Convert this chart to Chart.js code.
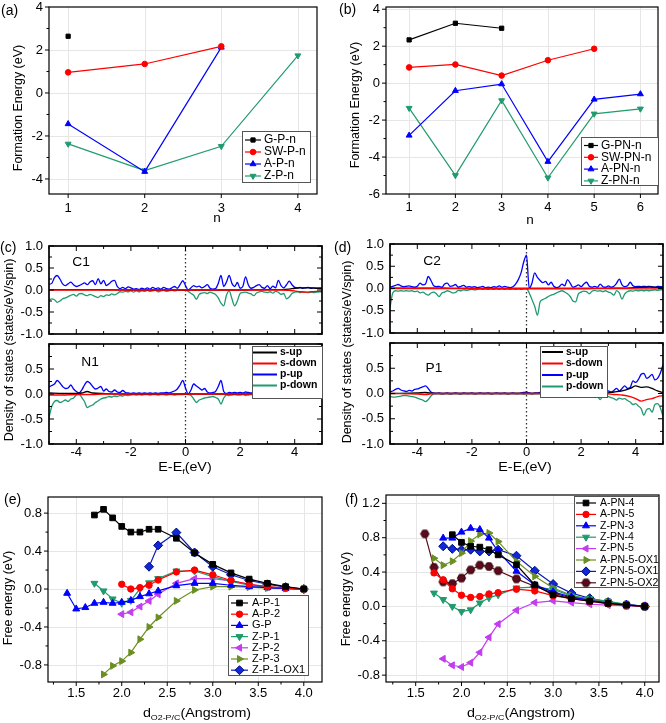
<!DOCTYPE html>
<html><head><meta charset="utf-8">
<script src="https://cdn.jsdelivr.net/npm/chart.js@4.4.1/dist/chart.umd.min.js"></script>
<style>
html,body{margin:0;padding:0;background:#fff}
body{position:relative;width:666px;height:723px;overflow:hidden;font-family:'Liberation Sans',Arial,Helvetica,sans-serif;color:#000}
canvas{position:absolute}
.t{position:absolute;white-space:nowrap;line-height:1}
.t sub{font-size:0.62em;vertical-align:baseline;position:relative;top:0.35em}
</style></head><body>
<script>
const FONT="'Liberation Sans', Arial, sans-serif";
const GREEN='#1f9b6d', MAG='#c23cf0', OLIVE='#6b8e23', NAVY='#0a1ab4', WINE='#5a0c1c';

// ===== (a) Formation energy, P-n =====
const aN=[1,2,3,4];
const aGPn=[2.64];
const aSWPn=[0.96,1.35,2.17];
const aAPn=[-1.44,-3.66,2.12];
const aZPn=[-2.37,-3.61,-2.48,1.74];
const aXTicks=[1,2,3,4], aYTicks=[-4,-2,0,2,4], aYMinor=[-3,-1,1,3];

// ===== (b) Formation energy, PN-n =====
const bN=[1,2,3,4,5,6];
const bGPNn=[2.34,3.24,2.97];
const bSWPNn=[0.85,1.01,0.41,1.24,1.86];
const bAPNn=[-2.83,-0.41,-0.05,-4.25,-0.88,-0.59];
const bZPNn=[-1.35,-4.99,-0.94,-5.12,-1.66,-1.39];
const bXTicks=[1,2,3,4,5,6], bYTicks=[-6,-4,-2,0,2,4], bYMinor=[-5,-3,-1,1,3];

// ===== DOS energy grid (eV) =====
const dosEnergy=[-5.0,-4.9,-4.8,-4.7,-4.6,-4.5,-4.4,-4.3,-4.2,-4.1,
-4.0,-3.9,-3.8,-3.7,-3.6,-3.5,-3.4,-3.3,-3.2,-3.1,
-3.0,-2.9,-2.8,-2.7,-2.6,-2.5,-2.4,-2.3,-2.2,-2.1,
-2.0,-1.9,-1.8,-1.7,-1.6,-1.5,-1.4,-1.3,-1.2,-1.1,
-1.0,-0.9,-0.8,-0.7,-0.6,-0.5,-0.4,-0.3,-0.2,-0.1,
0.0,0.1,0.2,0.3,0.4,0.5,0.6,0.7,0.8,0.9,
1.0,1.1,1.2,1.3,1.4,1.5,1.6,1.7,1.8,1.9,
2.0,2.1,2.2,2.3,2.4,2.5,2.6,2.7,2.8,2.9,
3.0,3.1,3.2,3.3,3.4,3.5,3.6,3.7,3.8,3.9,
4.0,4.1,4.2,4.3,4.4,4.5,4.6,4.7,4.8,4.9,
5.0];
const dosXTicks=[-4,-2,0,2,4], dosXMinor=[-5,-3,-1,1,3,5];
const dosYTicks=[-1,-0.5,0,0.5,1], dosYMinor=[-0.75,-0.25,0.25,0.75];

// ----- (c) C1 -----
const c1PUp=[0.13,0.15,0.28,0.33,0.25,0.14,0.10,0.14,0.18,0.12,
0.08,0.10,0.13,0.16,0.12,0.18,0.21,0.12,0.26,0.14,
0.22,0.10,0.14,0.20,0.22,0.08,0.03,0.06,0.03,0.07,
0.05,0.02,0.03,0.01,0.04,0.02,0.05,0.02,0.06,0.03,
0.05,0.02,0.06,0.03,0.02,0.05,0.08,0.04,0.12,0.21,
0.10,0.00,0.05,0.10,0.07,0.09,0.05,0.08,0.12,0.04,
0.02,0.03,0.15,0.33,0.08,0.18,0.33,0.15,0.08,0.17,
0.04,0.08,0.30,0.12,0.04,0.06,0.10,0.12,0.06,0.04,
0.10,0.03,0.09,0.05,0.22,0.10,0.05,0.12,0.20,0.12,
0.06,0.05,0.06,0.04,0.05,0.06,0.04,0.05,0.04,0.05,
0.05];
const c1PDown=[-0.24,-0.20,-0.22,-0.28,-0.25,-0.20,-0.18,-0.15,-0.12,-0.10,
-0.14,-0.09,-0.08,-0.11,-0.13,-0.10,-0.12,-0.15,-0.17,-0.13,
-0.15,-0.11,-0.12,-0.09,-0.11,-0.08,-0.04,-0.05,-0.03,-0.04,
-0.02,-0.05,-0.02,-0.04,-0.02,-0.03,-0.01,-0.03,-0.02,-0.01,
-0.04,-0.02,-0.01,-0.03,-0.02,-0.01,-0.02,-0.01,0.00,-0.01,
-0.01,-0.03,-0.08,-0.12,-0.21,-0.10,-0.07,-0.06,-0.08,-0.05,
-0.07,-0.10,-0.18,-0.30,-0.36,-0.12,-0.02,-0.20,-0.36,-0.25,
-0.08,-0.06,-0.05,-0.07,-0.09,-0.13,-0.07,-0.04,-0.03,-0.05,
-0.06,-0.04,-0.07,-0.03,-0.05,-0.10,-0.08,-0.20,-0.16,-0.08,
-0.05,-0.04,-0.06,-0.04,-0.05,-0.06,-0.05,-0.06,-0.05,-0.04,
-0.04];
const c1SEnergy=[-5,-4,-3,-2,-1,0,1,2,3,3.5,3.8,4.0,4.2,4.4,4.6,4.8,5.0];
const c1SUp=[0.01,0.01,0.01,0.0,0.0,0.0,0.0,0.0,0.01,0.01,0.02,0.04,0.05,0.05,0.05,0.04,0.03];
const c1SDown=[0,0,0,0,0,0,0,0,0,0,-0.01,-0.02,-0.04,-0.05,-0.04,-0.03,-0.03];

// ----- (c) N1 -----
const n1PUp=[0.14,0.17,0.20,0.27,0.22,0.15,0.11,0.12,0.18,0.10,
0.05,0.02,0.08,0.18,0.25,0.22,0.15,0.10,0.12,0.15,
0.06,0.10,0.05,0.04,0.08,0.04,0.03,0.07,0.03,0.02,
0.01,0.02,0.01,0.02,0.01,0.02,0.01,0.02,0.01,0.02,
0.01,0.02,0.02,0.03,0.02,0.04,0.06,0.10,0.18,0.27,
0.12,0.00,0.08,0.20,0.16,0.12,0.08,0.11,0.04,0.02,
0.03,0.05,0.15,0.27,0.05,0.01,0.03,0.02,0.03,0.02,
0.03,0.02,0.04,0.03,0.02,0.03,0.02,0.04,0.02,0.03,
0.02,0.03,0.02,0.04,0.03,0.02,0.03,0.02,0.03,0.02,
0.03,0.02,0.03,0.02,0.03,0.03,0.02,0.03,0.04,0.06,
0.10];
const n1PDown=[-0.47,-0.25,-0.15,-0.13,-0.17,-0.15,-0.12,-0.15,-0.10,-0.08,
-0.02,0.00,-0.07,-0.15,-0.27,-0.24,-0.22,-0.17,-0.14,-0.10,
-0.08,-0.07,-0.05,-0.06,-0.04,-0.05,-0.03,-0.04,-0.02,-0.03,
-0.02,-0.01,-0.02,-0.01,-0.02,-0.01,-0.01,-0.02,-0.01,-0.01,
-0.02,-0.01,-0.01,-0.02,-0.01,-0.01,-0.02,-0.01,-0.01,-0.01,
0.00,-0.01,-0.03,-0.10,-0.17,-0.12,-0.10,-0.08,-0.07,-0.06,
-0.05,-0.07,-0.10,-0.20,-0.08,-0.02,-0.03,-0.02,-0.01,-0.02,
-0.02,-0.01,-0.03,-0.02,-0.01,-0.02,-0.01,-0.02,-0.01,-0.02,
-0.01,-0.02,-0.02,-0.03,-0.02,-0.01,-0.02,-0.01,-0.02,-0.01,
-0.02,-0.01,-0.02,-0.02,-0.01,-0.02,-0.02,-0.03,-0.04,-0.05,
-0.06];
const n1SEnergy=[-5,-4.5,-4.0,-3.8,-3.6,-3.4,-3.0,-2,-1,0,1,2,3,4,4.6,4.8,4.9,5.0];
const n1SUp=[0.02,0.01,0.01,0.02,0.05,0.02,0.01,0,0,0,0,0,0.01,0.01,0.02,0.04,0.07,0.11];
const n1SDown=[-0.02,-0.02,-0.01,-0.01,-0.01,-0.01,0,0,0,0,0,0,0,-0.01,-0.02,-0.03,-0.05,-0.08];

// ----- (d) C2 -----
const c2PUp=[0.03,0.05,0.07,0.09,0.06,0.04,0.05,0.06,0.04,0.03,
0.05,0.12,0.08,0.10,0.27,0.18,0.06,0.04,0.05,0.03,
0.10,0.12,0.05,0.06,0.09,0.03,0.05,0.07,0.03,0.04,
0.03,0.04,0.02,0.03,0.05,0.02,0.03,0.02,0.04,0.03,
0.06,0.03,0.05,0.03,0.02,0.04,0.10,0.20,0.35,0.60,
0.75,0.00,0.12,0.35,0.25,0.18,0.13,0.16,0.08,0.14,
0.05,0.02,0.04,0.10,0.06,0.20,0.12,0.03,0.05,0.08,
0.04,0.10,0.14,0.05,0.03,0.05,0.03,0.10,0.04,0.03,
0.06,0.03,0.05,0.12,0.21,0.08,0.04,0.06,0.14,0.06,
0.04,0.05,0.04,0.05,0.04,0.05,0.04,0.03,0.05,0.04,
0.04];
const c2PDown=[-0.43,-0.10,-0.05,-0.06,-0.05,-0.06,-0.05,-0.06,-0.05,-0.07,
-0.06,-0.10,-0.08,-0.12,-0.15,-0.10,-0.08,-0.12,-0.18,-0.10,
-0.08,-0.05,-0.07,-0.10,-0.09,-0.04,-0.05,-0.03,-0.04,-0.03,
-0.02,-0.03,-0.02,-0.01,-0.02,-0.01,-0.02,-0.01,-0.02,-0.01,
-0.02,-0.01,-0.02,-0.01,-0.02,-0.01,-0.02,-0.01,-0.02,-0.01,
0.00,-0.10,-0.25,-0.40,-0.60,-0.30,-0.25,-0.22,-0.18,-0.15,
-0.13,-0.10,-0.07,-0.05,-0.08,-0.12,-0.18,-0.28,-0.30,-0.12,
-0.08,-0.06,-0.07,-0.12,-0.06,-0.04,-0.06,-0.05,-0.07,-0.05,
-0.08,-0.10,-0.15,-0.05,-0.10,-0.24,-0.12,-0.07,-0.05,-0.06,
-0.04,-0.05,-0.04,-0.05,-0.04,-0.05,-0.04,-0.03,-0.04,-0.03,
-0.03];
const c2SEnergy=[-5,-4,-3,-2,-1,0,1,2,3,3.5,4,4.5,5];
const c2SUp=[0.01,0.01,0.01,0,0,0,0,0,0.01,0.01,0.02,0.03,0.02];
const c2SDown=[0,0,0,0,0,0,0,0,0,0,-0.01,-0.01,-0.01];

// ----- (d) P1 -----
const p1PUp=[0.03,0.05,0.08,0.10,0.07,0.05,0.04,0.06,0.05,0.08,
0.09,0.11,0.13,0.15,0.10,0.03,0.01,0.00,0.01,0.00,
0.00,0.01,0.00,0.00,0.01,0.00,0.00,0.01,0.00,0.00,
0.01,0.00,0.00,0.01,0.00,0.00,0.01,0.00,0.00,0.01,
0.00,0.00,0.01,0.00,0.00,0.01,0.00,0.00,0.01,0.02,
0.03,0.01,0.00,0.01,0.01,0.02,0.01,0.02,0.01,0.02,
0.01,0.02,0.03,0.09,0.03,0.07,0.02,0.04,0.02,0.03,
0.02,0.03,0.02,0.04,0.02,0.05,0.09,0.04,0.02,0.04,
0.05,0.03,0.06,0.10,0.05,0.10,0.15,0.10,0.12,0.25,
0.22,0.28,0.38,0.40,0.30,0.33,0.38,0.27,0.30,0.40,
0.57];
const p1PDown=[-0.06,-0.07,-0.07,-0.06,-0.05,-0.04,-0.04,-0.05,-0.06,-0.07,
-0.09,-0.11,-0.13,-0.16,-0.12,-0.05,-0.01,0.00,0.00,-0.01,
0.00,0.00,-0.01,0.00,0.00,0.00,-0.01,0.00,0.00,0.00,
0.00,-0.01,0.00,0.00,0.00,0.00,0.00,-0.01,0.00,0.00,
0.00,0.00,0.00,-0.01,0.00,0.00,0.00,0.00,0.00,-0.01,
0.00,0.00,-0.01,0.00,0.00,0.00,-0.01,0.00,0.00,0.00,
-0.01,0.00,-0.01,-0.02,-0.01,-0.01,0.00,-0.01,-0.01,0.00,
-0.01,0.00,-0.01,-0.01,-0.01,-0.03,-0.06,-0.12,-0.05,-0.04,
-0.06,-0.08,-0.10,-0.13,-0.09,-0.11,-0.10,-0.14,-0.17,-0.22,
-0.20,-0.25,-0.30,-0.43,-0.32,-0.30,-0.37,-0.22,-0.20,-0.28,
-0.45];
const p1SEnergy=[-5,-4,-3.7,-3.4,-2,0,2,2.4,2.55,2.65,2.75,2.9,3.2,3.5,3.8,4.0,4.2,4.4,4.6,4.8,5.0];
const p1SUp=[0,0.01,0.02,0,0,0,0,0,0.04,0.08,0.04,0.01,0.03,0.05,0.10,0.15,0.12,0.13,0.10,0.05,0.02];
const p1SDown=[0,-0.01,-0.02,0,0,0,0,0,-0.02,-0.04,-0.02,0,-0.02,-0.03,-0.06,-0.10,-0.15,-0.12,-0.10,-0.06,-0.04];

// ===== (e) Free energy =====
const eAP1x=[1.7,1.8,1.9,2.0,2.1,2.2,2.3,2.4,2.6,2.8,3.0,3.2,3.4,3.6,3.8,4.0];
const eAP1=[0.78,0.84,0.75,0.66,0.60,0.60,0.63,0.63,0.535,0.38,0.26,0.17,0.105,0.06,0.025,0.0];
const eAP2x=[2.0,2.1,2.2,2.3,2.4,2.6,2.8,3.0,3.2,3.4,3.6,3.8,4.0];
const eAP2=[0.05,0.0,0.015,0.04,0.095,0.18,0.2,0.15,0.09,0.05,0.025,0.01,0.0];
const eGPx=[1.4,1.5,1.6,1.7,1.8,1.9,2.0,2.1,2.2,2.3,2.4,2.6,2.8,3.0,3.2,3.4,3.6,3.8,4.0];
const eGP=[-0.045,-0.21,-0.195,-0.15,-0.14,-0.15,-0.14,-0.12,-0.08,-0.05,-0.02,0.035,0.06,0.06,0.04,0.025,0.015,0.005,0.0];
const eZP1x=[1.7,1.8,1.9,2.0,2.1,2.2,2.3,2.4,2.6,2.8,3.0,3.2,3.4,3.6,3.8,4.0];
const eZP1=[0.06,-0.02,-0.105,-0.15,-0.12,0.0,0.065,0.11,0.19,0.19,0.13,0.08,0.04,0.02,0.01,0.0];
const eZP2x=[2.0,2.1,2.2,2.3,2.4,2.6,2.8,3.0,3.2,3.4,3.6,3.8,4.0];
const eZP2=[-0.265,-0.245,-0.185,-0.125,-0.055,0.06,0.11,0.11,0.085,0.05,0.02,0.01,0.0];
const eZP3x=[1.8,1.9,2.0,2.1,2.2,2.3,2.4,2.6,2.8,3.0,3.2,3.4,3.6,3.8,4.0];
const eZP3=[-0.9,-0.81,-0.76,-0.67,-0.53,-0.4,-0.3,-0.125,-0.01,0.025,0.025,0.02,0.01,0.005,0.0];
const eZP1OX1x=[2.3,2.4,2.6,2.8,3.0,3.2,3.4,3.6,3.8,4.0];
const eZP1OX1=[0.235,0.46,0.595,0.385,0.235,0.15,0.09,0.05,0.02,0.0];
const eXTicks=[1.5,2.0,2.5,3.0,3.5,4.0], eXMinor=[1.25,1.75,2.25,2.75,3.25,3.75];
const eYTicks=[-0.8,-0.4,0.0,0.4,0.8], eYMinor=[-0.6,-0.2,0.2,0.6];

// ===== (f) Free energy =====
const fAPN4x=[1.9,2.0,2.1,2.2,2.3,2.4,2.6,2.8,3.0,3.2,3.4,3.6,3.8,4.0];
const fAPN4=[0.835,0.745,0.70,0.69,0.66,0.60,0.485,0.25,0.135,0.09,0.06,0.035,0.015,0.0];
const fAPN5x=[1.7,1.8,1.9,2.0,2.1,2.2,2.3,2.4,2.6,2.8,3.0,3.2,3.4,3.6,3.8,4.0];
const fAPN5=[0.39,0.31,0.205,0.13,0.105,0.115,0.145,0.16,0.2,0.18,0.125,0.09,0.06,0.03,0.015,0.0];
const fZPN3x=[1.8,1.9,2.0,2.1,2.2,2.3,2.4,2.6,2.8,3.0,3.2,3.4,3.6,3.8,4.0];
const fZPN3=[0.795,0.795,0.865,0.91,0.895,0.795,0.64,0.41,0.25,0.17,0.11,0.07,0.04,0.02,0.0];
const fZPN4x=[1.7,1.8,1.9,2.0,2.1,2.2,2.3,2.4,2.6,2.8,3.0,3.2,3.4,3.6,3.8,4.0];
const fZPN4=[0.155,0.08,0.0,-0.06,-0.04,0.04,0.1,0.135,0.215,0.225,0.2,0.12,0.09,0.06,0.025,0.0];
const fZPN5x=[1.8,1.9,2.0,2.1,2.2,2.3,2.4,2.6,2.8,3.0,3.2,3.4,3.6,3.8,4.0];
const fZPN5=[-0.61,-0.685,-0.705,-0.655,-0.535,-0.36,-0.205,-0.045,0.045,0.065,0.045,0.025,0.015,0.01,0.0];
const fAPN5OX1x=[1.7,1.8,1.9,2.0,2.1,2.2,2.3,2.4,2.6,2.8,3.0,3.2,3.4,3.6,3.8,4.0];
const fAPN5OX1=[0.56,0.48,0.525,0.62,0.76,0.84,0.855,0.755,0.525,0.35,0.215,0.13,0.08,0.05,0.02,0.0];
const fZPN5OX1x=[1.8,1.9,2.0,2.1,2.2,2.3,2.4,2.6,2.8,3.0,3.2,3.4,3.6,3.8,4.0];
const fZPN5OX1=[0.70,0.67,0.66,0.66,0.64,0.64,0.66,0.59,0.415,0.26,0.155,0.095,0.05,0.02,0.0];
const fZPN5OX2x=[1.6,1.7,1.8,1.9,2.0,2.1,2.2,2.3,2.4,2.6,2.8,3.0,3.2,3.4,3.6,3.8,4.0];
const fZPN5OX2=[0.845,0.455,0.285,0.265,0.33,0.425,0.48,0.465,0.415,0.32,0.235,0.155,0.1,0.075,0.045,0.015,0.0];
const fXTicks=[1.5,2.0,2.5,3.0,3.5,4.0], fXMinor=[1.25,1.75,2.25,2.75,3.25,3.75];
const fYTicks=[-0.8,-0.4,0.0,0.4,0.8,1.2], fYMinor=[-0.6,-0.2,0.2,0.6,1.0];

// ================= helpers =================
const xy=(xs,ys)=>ys.map((v,i)=>({x:xs[i],y:v}));
const DECO=new Map();

function drawMark(ctx,d,x,y){
  if(!d.pointRadius) return;
  ctx.save();
  ctx.fillStyle=d.pointBackgroundColor||d.borderColor;
  ctx.strokeStyle=d.pointBorderColor||d.borderColor;
  ctx.lineWidth=d.pointBorderWidth||1;
  if(Chart.helpers&&Chart.helpers.drawPoint){
    Chart.helpers.drawPoint(ctx,{pointStyle:d.pointStyle,rotation:d.pointRotation||0,radius:d.pointRadius,borderWidth:d.pointBorderWidth||1},x,y);
  } else {ctx.beginPath();ctx.arc(x,y,d.pointRadius,0,Math.PI*2);ctx.fill();ctx.stroke();}
  ctx.restore();
}

const deco={
  id:'deco',
  beforeDatasetsDraw(chart){
    const o=DECO.get(chart.canvas); if(!o) return;
    const ctx=chart.ctx,a=chart.chartArea,sx=chart.scales.x,sy=chart.scales.y;
    ctx.save();
    if(o.grid){
      ctx.strokeStyle='#e6e6e6';ctx.lineWidth=1;
      o.xMaj.forEach(v=>{const p=Math.round(sx.getPixelForValue(v))+0.5;if(p>a.left+2&&p<a.right-2){ctx.beginPath();ctx.moveTo(p,a.top);ctx.lineTo(p,a.bottom);ctx.stroke();}});
      o.yMaj.forEach(v=>{const p=Math.round(sy.getPixelForValue(v))+0.5;if(p>a.top+2&&p<a.bottom-2){ctx.beginPath();ctx.moveTo(a.left,p);ctx.lineTo(a.right,p);ctx.stroke();}});
    }
    if(o.zero!==undefined){
      const p=sx.getPixelForValue(o.zero);
      ctx.strokeStyle='#333';ctx.lineWidth=1.3;ctx.setLineDash([1.4,2.6]);
      ctx.beginPath();ctx.moveTo(p,a.top);ctx.lineTo(p,a.bottom);ctx.stroke();
    }
    ctx.restore();
  },
  afterDatasetsDraw(chart){
    const o=DECO.get(chart.canvas); if(!o) return;
    const ctx=chart.ctx,a=chart.chartArea,sx=chart.scales.x,sy=chart.scales.y;
    ctx.save();
    ctx.strokeStyle='#000';ctx.lineWidth=o.fw;
    ctx.strokeRect(a.left,a.top,a.right-a.left,a.bottom-a.top);
    const s=o.dir==='in'?-1:1;
    ctx.lineWidth=1;
    const hx=(vals,len)=>vals.forEach(v=>{const p=sx.getPixelForValue(v);if(p<a.left-0.5||p>a.right+0.5)return;ctx.beginPath();ctx.moveTo(p,a.bottom);ctx.lineTo(p,a.bottom+s*len);if(o.mirror){ctx.moveTo(p,a.top);ctx.lineTo(p,a.top-s*len);}ctx.stroke();});
    const vy=(vals,len)=>vals.forEach(v=>{const p=sy.getPixelForValue(v);if(p<a.top-0.5||p>a.bottom+0.5)return;ctx.beginPath();ctx.moveTo(a.left,p);ctx.lineTo(a.left-s*len,p);if(o.mirror){ctx.moveTo(a.right,p);ctx.lineTo(a.right+s*len,p);}ctx.stroke();});
    hx(o.xMaj,o.tl);hx(o.xMin||[],o.tm);vy(o.yMaj,o.tl);vy(o.yMin||[],o.tm);
    if(o.leg){
      const L=o.leg;
      ctx.fillStyle='#fff';ctx.fillRect(L.x,L.y,L.w,L.h);
      ctx.strokeStyle='#555';ctx.lineWidth=1;ctx.strokeRect(L.x+0.5,L.y+0.5,L.w,L.h);
      chart.data.datasets.forEach((d,i)=>{
        const cy=L.first+i*L.row;
        ctx.strokeStyle=d.borderColor;ctx.lineWidth=L.lw||d.borderWidth;
        ctx.beginPath();ctx.moveTo(L.x0,cy);ctx.lineTo(L.x1,cy);ctx.stroke();
        drawMark(ctx,d,(L.x0+L.x1)/2,cy);
        ctx.fillStyle='#000';ctx.font=L.font;ctx.textAlign='left';ctx.textBaseline='middle';
        ctx.fillText(d.label,L.tx,cy);
      });
    }
    ctx.restore();
  }
};

function makeChart(box,area,X,Y,datasets,D){
  const cv=document.createElement('canvas');
  cv.width=box.w;cv.height=box.h;
  cv.style.left=box.x+'px';cv.style.top=box.y+'px';cv.style.width=box.w+'px';cv.style.height=box.h+'px';
  document.body.appendChild(cv);
  if(D.leg){const L=D.leg;['x','x0','x1','tx'].forEach(k=>L[k]-=box.x);['y','first'].forEach(k=>L[k]-=box.y);}
  DECO.set(cv,D);
  const yW=area.l-box.x, xH=box.y+box.h-area.b;
  const ax=(A,horiz)=>({
    type:'linear',display:A.show!==false,min:A.min,max:A.max,
    grid:{display:false,drawTicks:false},border:{display:false},
    ticks:{color:'#000',font:{family:FONT,size:13},padding:A.pad||0,autoSkip:false,maxRotation:0,minRotation:0,callback:v=>A.fmt(v)},
    afterBuildTicks:s=>{s.ticks=A.ticks.map(v=>({value:v}));},
    afterFit:s=>{if(horiz)s.height=xH;else s.width=yW;s.paddingTop=0;s.paddingBottom=0;s.paddingLeft=0;s.paddingRight=0;}
  });
  return new Chart(cv,{type:'line',data:{datasets},options:{
    responsive:false,maintainAspectRatio:false,animation:false,devicePixelRatio:1,events:[],
    layout:{padding:{left:0,right:box.x+box.w-area.r,top:area.t-box.y,bottom:X.show===false?(box.y+box.h-area.b):0}},
    plugins:{legend:{display:false},tooltip:{enabled:false}},
    scales:{x:ax(X,true),y:ax(Y,false)}
  },plugins:[deco]});
}

function ser(label,xs,ys,color,style,r,rot,extra){
  return Object.assign({label,data:xy(xs,ys),borderColor:color,backgroundColor:color,pointBackgroundColor:color,pointBorderColor:color,
    pointStyle:style,pointRadius:r,pointHoverRadius:r,pointRotation:rot||0,borderWidth:1.2,pointBorderWidth:1,tension:0,fill:false},extra||{});
}
function dosSets(se,sup,sdn,pup,pdn){
  return [
    {label:'s-up',data:xy(se,sup),borderColor:'#000000',order:1},
    {label:'s-down',data:xy(se,sdn),borderColor:'#ff0000',order:0},
    {label:'p-up',data:xy(dosEnergy,pup),borderColor:'#0000ff',order:2},
    {label:'p-down',data:xy(dosEnergy,pdn),borderColor:GREEN,order:3}
  ].map(d=>Object.assign(d,{borderWidth:1.3,pointRadius:0,cubicInterpolationMode:'monotone',fill:false}));
}
function hexImg(r,fill,stroke){
  const c=document.createElement('canvas');const s=Math.ceil(2*r+2);c.width=c.height=s;
  const g=c.getContext('2d');g.beginPath();
  for(let k=0;k<6;k++){const an=Math.PI/3*k;const px=s/2+r*Math.cos(an),py=s/2+r*Math.sin(an);if(k)g.lineTo(px,py);else g.moveTo(px,py);}
  g.closePath();g.fillStyle=fill;g.fill();g.strokeStyle=stroke;g.lineWidth=1;g.stroke();return c;
}
function txt(html,cx,cy,o){
  o=o||{};
  const d=document.createElement('div');d.className='t';d.innerHTML=html;
  d.style.left=cx+'px';d.style.top=cy+'px';d.style.fontSize=(o.fs||12)+'px';
  if(o.bold)d.style.fontWeight='bold';
  if(o.left){d.style.transformOrigin='0 50%';d.style.transform='translate(0,-50%)'+(o.sx?' scaleX('+o.sx+')':'');}
  else d.style.transform='translate(-50%,-50%)'+(o.rot?' rotate(-90deg)':'')+(o.sx?' scaleX('+o.sx+')':'');
  document.body.appendChild(d);
}
const intFmt=v=>String(v), f1=v=>v.toFixed(1);
const DFONT="bold 10.5px "+FONT;

// ================= (a) =================
makeChart({x:0,y:0,w:333,h:240},{l:49,t:7,r:317,b:194},
  {min:0.75,max:4.25,ticks:aXTicks,fmt:intFmt,pad:7},
  {min:-4.7,max:4,ticks:aYTicks,fmt:intFmt,pad:6},
  [ser('G-P-n',aN,aGPn,'#000000','rect',3),
   ser('SW-P-n',aN,aSWPn,'#ff0000','circle',2.8),
   ser('A-P-n',aN,aAPn,'#0000ff','triangle',3.4),
   ser('Z-P-n',aN,aZPn,GREEN,'triangle',3.4,180)],
  {grid:true,dir:'out',fw:1.2,tl:4,tm:2.5,xMaj:aXTicks,yMaj:aYTicks,yMin:aYMinor,
   leg:{x:242,y:131,w:68,h:51,first:140,row:12,x0:245,x1:261,tx:264,font:"12px "+FONT}});

// ================= (b) =================
makeChart({x:333,y:0,w:333,h:240},{l:386,t:7,r:658,b:194},
  {min:0.5,max:6.38,ticks:bXTicks,fmt:intFmt,pad:6},
  {min:-6,max:4.12,ticks:bYTicks,fmt:intFmt,pad:6},
  [ser('G-PN-n',bN,bGPNn,'#000000','rect',3),
   ser('SW-PN-n',bN,bSWPNn,'#ff0000','circle',2.8),
   ser('A-PN-n',bN,bAPNn,'#0000ff','triangle',3.4),
   ser('Z-PN-n',bN,bZPNn,GREEN,'triangle',3.4,180)],
  {grid:true,dir:'out',fw:1.2,tl:4,tm:2.5,xMaj:bXTicks,yMaj:bYTicks,yMin:bYMinor,
   leg:{x:581,y:137,w:77,h:48,first:145.5,row:11.8,x0:584,x1:598,tx:601,font:"12px "+FONT}});

// ================= (c) =================
const dosDeco=()=>({dir:'in',mirror:true,fw:1.7,tl:5,tm:3,xMaj:dosXTicks,xMin:dosXMinor,yMaj:dosYTicks,yMin:dosYMinor,zero:0});
makeChart({x:0,y:236,w:333,h:118},{l:49,t:246,r:322,b:344},
  {min:-5,max:5,ticks:dosXTicks,fmt:intFmt,show:false},
  {min:-1,max:1,ticks:dosYTicks,fmt:f1,pad:6},
  dosSets(c1SEnergy,c1SUp,c1SDown,c1PUp,c1PDown),dosDeco());
makeChart({x:0,y:334,w:333,h:130},{l:49,t:344,r:322,b:444},
  {min:-5,max:5,ticks:dosXTicks,fmt:intFmt,pad:1},
  {min:-1,max:1,ticks:dosYTicks,fmt:v=>v===1?'':v.toFixed(1),pad:6},
  dosSets(n1SEnergy,n1SUp,n1SDown,n1PUp,n1PDown),
  Object.assign(dosDeco(),{leg:{x:252,y:346,w:70,h:52,first:352.5,row:11,x0:253,x1:277,tx:280,font:DFONT,lw:2}}));

// ================= (d) =================
makeChart({x:333,y:234,w:333,h:119},{l:390,t:244,r:663,b:343},
  {min:-5,max:5,ticks:dosXTicks,fmt:intFmt,show:false},
  {min:-1,max:1,ticks:dosYTicks,fmt:f1,pad:6},
  dosSets(c2SEnergy,c2SUp,c2SDown,c2PUp,c2PDown),dosDeco());
makeChart({x:333,y:333,w:333,h:131},{l:390,t:343,r:663,b:444},
  {min:-5,max:5,ticks:dosXTicks,fmt:intFmt,pad:1},
  {min:-1,max:1,ticks:dosYTicks,fmt:v=>v===1?'':v.toFixed(1),pad:6},
  dosSets(p1SEnergy,p1SUp,p1SDown,p1PUp,p1PDown),
  Object.assign(dosDeco(),{leg:{x:540,y:346,w:67,h:51,first:352,row:11.5,x0:542,x1:563,tx:566,font:DFONT,lw:2}}));

// ================= (e) =================
makeChart({x:0,y:487,w:333,h:236},{l:48,t:497,r:322,b:682},
  {min:1.19,max:4.2,ticks:eXTicks,fmt:f1,pad:4},
  {min:-0.98,max:0.97,ticks:eYTicks,fmt:f1,pad:6},
  [ser('A-P-1',eAP1x,eAP1,'#000000','rect',4),
   ser('A-P-2',eAP2x,eAP2,'#ff0000','circle',3.2),
   ser('G-P',eGPx,eGP,'#0000ff','triangle',4),
   ser('Z-P-1',eZP1x,eZP1,GREEN,'triangle',4,180),
   ser('Z-P-2',eZP2x,eZP2,MAG,'triangle',4,-90),
   ser('Z-P-3',eZP3x,eZP3,OLIVE,'triangle',4,90),
   ser('Z-P-1-OX1',eZP1OX1x,eZP1OX1,NAVY,'rectRot',4.5,0,{pointBackgroundColor:'#1028d8',pointBorderColor:'#000c80'})],
  {grid:true,dir:'out',fw:1.2,tl:4,tm:2.5,xMaj:eXTicks,xMin:eXMinor,yMaj:eYTicks,yMin:eYMinor,
   leg:{x:228,y:595,w:80,h:80,first:603,row:11.2,x0:231,x1:248,tx:252,font:"11px "+FONT}});

// ================= (f) =================
const hex=hexImg(4.2,WINE,'#300008');
makeChart({x:333,y:485,w:333,h:238},{l:386,t:495,r:659,b:682},
  {min:1.176,max:4.156,ticks:fXTicks,fmt:f1,pad:4},
  {min:-0.88,max:1.297,ticks:fYTicks,fmt:f1,pad:6},
  [ser('A-PN-4',fAPN4x,fAPN4,'#000000','rect',4),
   ser('A-PN-5',fAPN5x,fAPN5,'#ff0000','circle',3.2),
   ser('Z-PN-3',fZPN3x,fZPN3,'#0000ff','triangle',4),
   ser('Z-PN-4',fZPN4x,fZPN4,GREEN,'triangle',4,180),
   ser('Z-PN-5',fZPN5x,fZPN5,MAG,'triangle',4,-90),
   ser('A-PN-5-OX1',fAPN5OX1x,fAPN5OX1,OLIVE,'triangle',4,90),
   ser('Z-PN-5-OX1',fZPN5OX1x,fZPN5OX1,NAVY,'rectRot',4.5,0,{pointBackgroundColor:'#1028d8',pointBorderColor:'#000c80'}),
   ser('Z-PN-5-OX2',fZPN5OX2x,fZPN5OX2,WINE,hex,4.2)],
  {grid:true,dir:'out',fw:1.2,tl:4,tm:2.5,xMaj:fXTicks,xMin:fXMinor,yMaj:fYTicks,yMin:fYMinor,
   leg:{x:574,y:496,w:84,h:91,first:503,row:11.4,x0:576,x1:596,tx:600,font:"10.5px "+FONT}});

// ================= texts =================
txt('(a)',1,10,{fs:14,left:true});
txt('(b)',339,9,{fs:14,left:true});
txt('(c)',0,247,{fs:14,left:true});
txt('(d)',334,247,{fs:14,left:true});
txt('(e)',4,499,{fs:14,left:true});
txt('(f)',345,499,{fs:14,left:true});
txt('Formation Energy (eV)',18,108,{fs:12.5,rot:true});
txt('Formation Energy (eV)',355,105,{fs:12.5,rot:true});
txt('n',217,218,{fs:13.5});
txt('n',530,220,{fs:13.5});
txt('Density of states (states/eV/spin)',9,350,{fs:12.5,rot:true});
txt('Density of states (states/eV/spin)',347,352,{fs:12.5,rot:true});
txt('E-E<sub>f</sub>(eV)',185,467,{fs:13,sx:1.1});
txt('E-E<sub>f</sub>(eV)',525,467,{fs:13,sx:1.1});
txt('C1',81,262,{fs:12.5,sx:1.1});
txt('N1',90,362,{fs:12.5,sx:1.1});
txt('C2',432,261,{fs:12.5,sx:1.1});
txt('P1',434,368,{fs:12.5,sx:1.1});
txt('Free energy (eV)',8,598,{fs:12.5,rot:true});
txt('Free energy (eV)',346,599,{fs:12.5,rot:true});
txt('d<sub>O2-P/C</sub>(Angstrom)',197,713,{fs:13,sx:1.1});
txt('d<sub>O2-P/C</sub>(Angstrom)',521,713,{fs:13,sx:1.1});
</script></body></html>
